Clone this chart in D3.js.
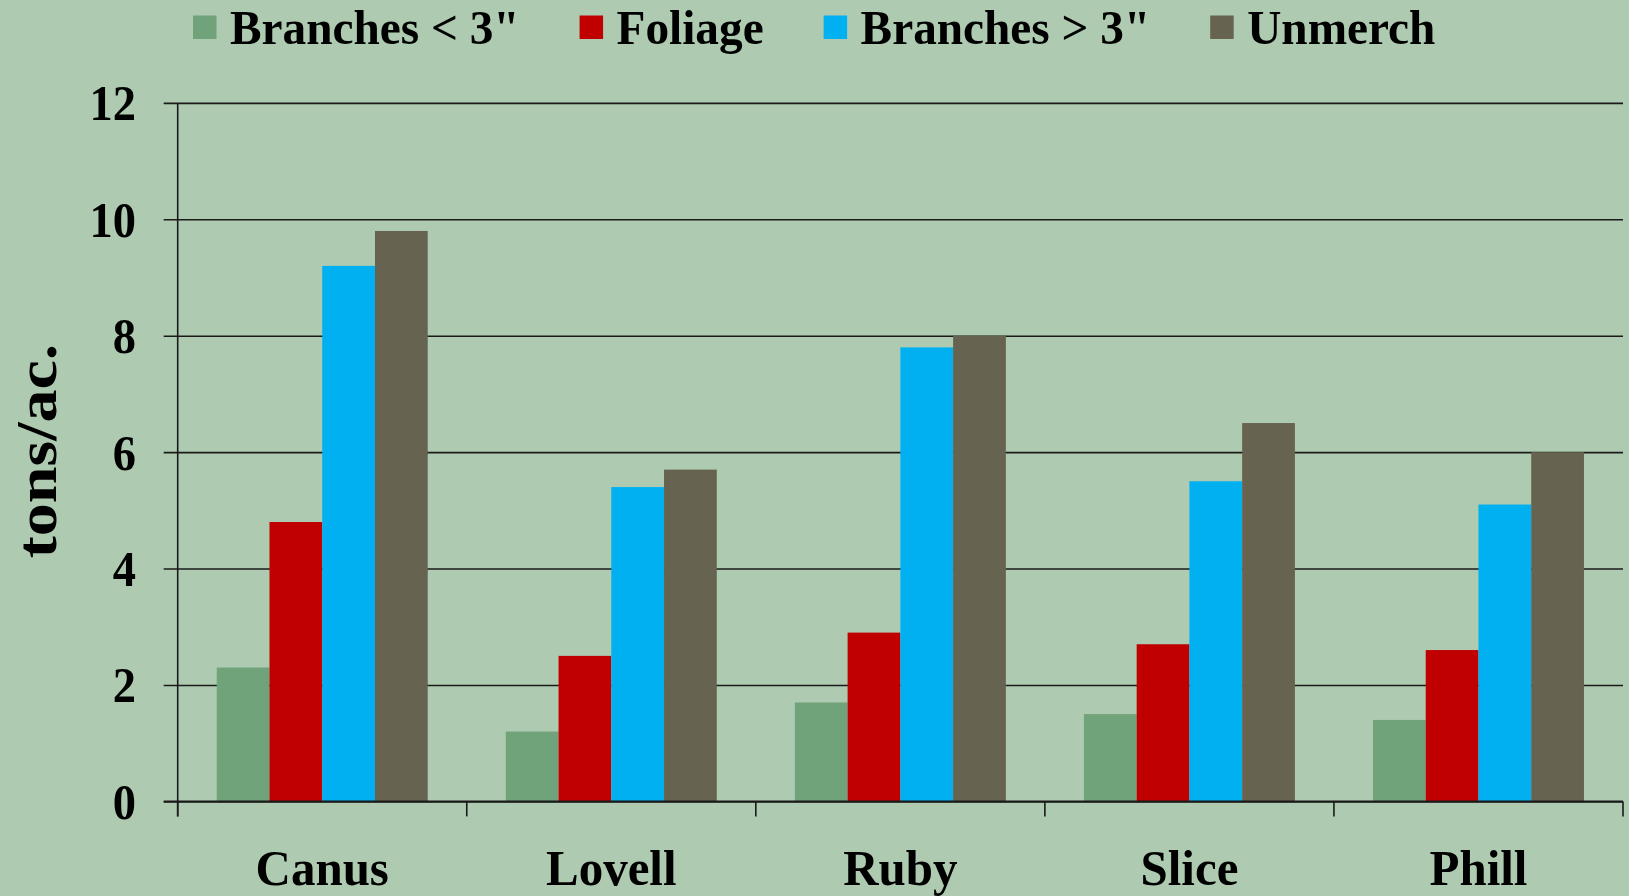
<!DOCTYPE html>
<html>
<head>
<meta charset="utf-8">
<script src="https://cdn.jsdelivr.net/npm/d3@7"></script>
<style>
  html, body { margin: 0; padding: 0; background: #AECBB1; }
  svg { display: block; }
  text { font-family: "Liberation Serif", "Times New Roman", serif; font-weight: bold; fill: #000; }
</style>
</head>
<body>
<svg id="chart" width="1629" height="896"></svg>
<script>
const categories = ["Canus", "Lovell", "Ruby", "Slice", "Phill"];
const seriesNames = ["Branches < 3\"", "Foliage", "Branches > 3\"", "Unmerch"];
const branchesSmall = [2.3, 1.2, 1.7, 1.5, 1.4];
const foliage = [4.8, 2.5, 2.9, 2.7, 2.6];
const branchesLarge = [9.2, 5.4, 7.8, 5.5, 5.1];
const unmerch = [9.8, 5.7, 8.0, 6.5, 6.0];
const yTicks = [0, 2, 4, 6, 8, 10, 12];
const yTitle = "tons/ac.";
const colors = ["#71A37A", "#C00000", "#00B0F0", "#666350"];

const seriesValues = [branchesSmall, foliage, branchesLarge, unmerch];
const W = 1629, H = 896;
const m = { left: 177.7, right: W - 1623, top: 102.9, bottom: H - 801.4 };
const sx = 0.93; // horizontal squeeze of glyphs seen in the reference

const svg = d3.select("#chart");
svg.append("rect").attr("width", W).attr("height", H).attr("fill", "#AECBB1");

const x0 = d3.scaleBand().domain(categories).range([m.left, W - m.right]).padding(0);
const x1 = d3.scaleBand().domain(seriesNames).range([0, x0.bandwidth()])
  .paddingInner(0).paddingOuter(0.74);
const y = d3.scaleLinear().domain([0, 12]).range([H - m.bottom, m.top]);

// gridlines + y axis ticks
const yAxis = d3.axisLeft(y).tickValues(yTicks).tickSize(-(W - m.left - m.right)).tickPadding(0).tickFormat("");
const gy = svg.append("g").attr("transform", `translate(${m.left},0)`).call(yAxis);
gy.select(".domain").remove();
gy.selectAll(".tick line").attr("stroke", "#1a1a1a").attr("stroke-width", 1.6)
  .attr("x1", -14);

// bars
const groups = svg.append("g").selectAll("g").data(categories).join("g")
  .attr("transform", c => `translate(${x0(c)},0)`);
groups.selectAll("rect")
  .data((c, i) => seriesNames.map((s, k) => ({ s, k, v: seriesValues[k][i] })))
  .join("rect")
  .attr("x", d => x1(d.s))
  .attr("width", x1.bandwidth())
  .attr("y", d => y(d.v))
  .attr("height", d => y(0) - y(d.v))
  .attr("fill", d => colors[d.k]);

// y axis line
svg.append("line").attr("x1", m.left).attr("x2", m.left)
  .attr("y1", y(12)).attr("y2", y(0) + 15).attr("stroke", "#1a1a1a").attr("stroke-width", 1.6);
// x axis line
svg.append("line").attr("x1", m.left - 14).attr("x2", W - m.right)
  .attr("y1", y(0)).attr("y2", y(0)).attr("stroke", "#1a1a1a").attr("stroke-width", 1.8);
// category boundary ticks
const bounds = categories.map(c => x0(c)).concat([x0(categories[categories.length - 1]) + x0.bandwidth()]);
svg.append("g").selectAll("line").data(bounds).join("line")
  .attr("x1", d => d).attr("x2", d => d)
  .attr("y1", y(0)).attr("y2", y(0) + 15)
  .attr("stroke", "#1a1a1a").attr("stroke-width", 1.6);

// y tick labels
svg.append("g").selectAll("text").data(yTicks).join("text")
  .attr("transform", d => `translate(136,${y(d)}) scale(${sx},1)`)
  .attr("text-anchor", "end").attr("dy", "0.35em")
  .style("font-size", "50px")
  .text(d => d);

// category labels
svg.append("g").selectAll("text").data(categories).join("text")
  .attr("transform", c => `translate(${x0(c) + x0.bandwidth() / 2},885) scale(0.96,1)`)
  .attr("text-anchor", "middle")
  .style("font-size", "51px")
  .text(c => c);

// y title
svg.append("text")
  .attr("transform", "translate(56,451) rotate(-90) scale(1.18,1)")
  .attr("text-anchor", "middle")
  .style("font-size", "56px")
  .text(yTitle);

// legend
const leg = svg.append("g");
const lsx = 0.965;
let lx = 193;
seriesNames.forEach((s, k) => {
  leg.append("rect").attr("x", lx).attr("y", 15.5).attr("width", 23.5).attr("height", 23.5).attr("fill", colors[k]);
  const t = leg.append("text")
    .attr("transform", `translate(${lx + 37},44) scale(${lsx},1)`)
    .style("font-size", "49px")
    .text(s);
  const w = t.node().getComputedTextLength() * lsx;
  lx = lx + 37 + w + 60;
});
</script>
</body>
</html>
